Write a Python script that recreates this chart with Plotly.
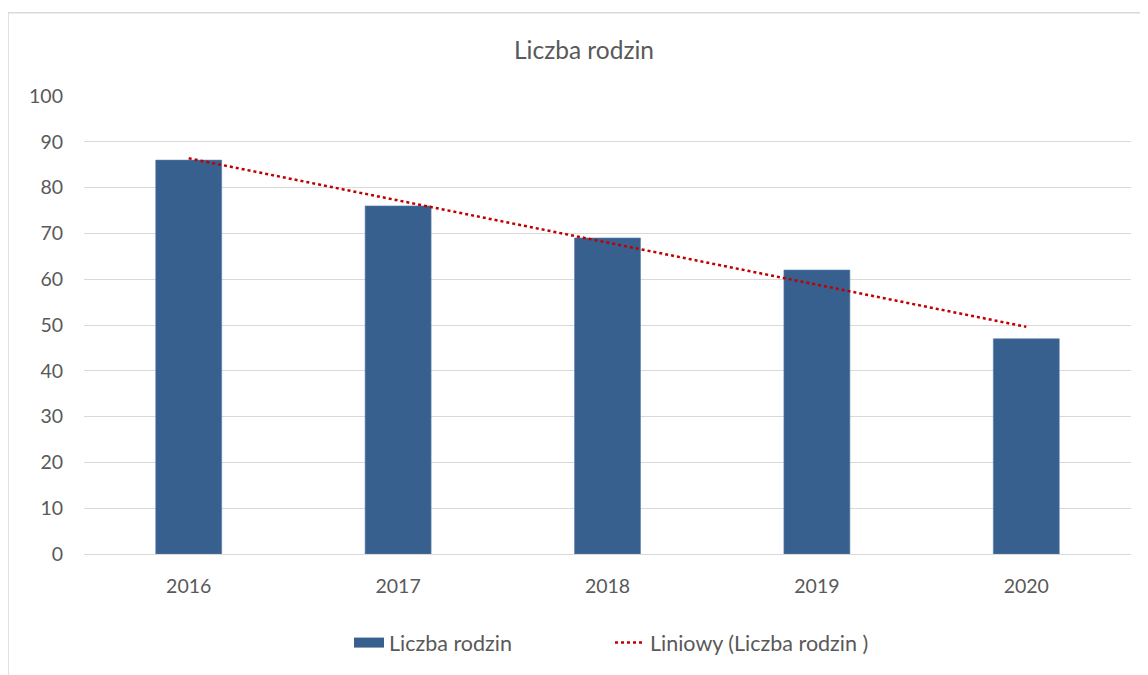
import plotly.graph_objects as go
import numpy as np

years = ["2016", "2017", "2018", "2019", "2020"]
families = [86, 76, 69, 62, 47]
y_ticks = [0, 10, 20, 30, 40, 50, 60, 70, 80, 90, 100]

# linear trendline (least squares) computed from the data
xi = np.arange(1, len(families) + 1)
slope, intercept = np.polyfit(xi, families, 1)
trend = list(slope * xi + intercept)

FONT = "Lato, 'Open Sans', sans-serif"
GREY = "#595959"
BAR = "#37608F"

fig = go.Figure()
fig.add_trace(go.Bar(
    x=years, y=families, name="Liczba rodzin", showlegend=False,
    marker=dict(color=BAR, line=dict(color="#5A7FAA", width=0.6)),
))
# legend proxy for the bar series (wide swatch like the original)
fig.add_trace(go.Scatter(
    x=[None], y=[None], name="Liczba rodzin", mode="lines",
    line=dict(color=BAR, width=16),
))
fig.add_trace(go.Scatter(
    x=years, y=trend, name="Liniowy (Liczba rodzin )", mode="lines",
    line=dict(color="#C00000", width=2.5, dash="dot"),
))

# page has an 8px body margin; work in figure coordinates
W, H = 1140, 667
L, R, T, B = 76, 17, 88, 119
pw, ph = W - L - R, H - T - B
bx0 = (0 - L) / pw
by1 = 1 + (T - 4.5) / ph
by0 = -(B + 5) / ph
bx1 = 1 + (R + 5) / pw

fig.update_layout(
    width=W, height=H,
    margin=dict(l=L, r=R, t=T, b=B),
    paper_bgcolor="white", plot_bgcolor="white",
    font=dict(family=FONT, size=19, color=GREY),
    title=dict(text="Liczba rodzin", x=576 / W, xanchor="center",
               y=1 - 42 / H, yanchor="middle",
               font=dict(family=FONT, size=24.5, color=GREY)),
    bargap=0.685,
    showlegend=True,
    legend=dict(orientation="h", x=(381 - 40 - L) / pw, xanchor="left",
                y=-(637 - (H - B)) / ph, yanchor="middle",
                font=dict(family=FONT, size=21.5, color=GREY),
                entrywidth=216, entrywidthmode="pixels",
                tracegroupgap=0),
    xaxis=dict(type="category", showgrid=False, showline=False,
               ticks="", ticklabelstandoff=18,
               tickfont=dict(family=FONT, size=19.5, color=GREY)),
    yaxis=dict(range=[0, 100], tickvals=y_ticks, showgrid=True,
               gridcolor="#D9D9D9", gridwidth=1, zeroline=True,
               zerolinecolor="#D9D9D9", zerolinewidth=1, showline=False,
               ticks="", ticklabelstandoff=20,
               tickfont=dict(family=FONT, size=19.5, color=GREY)),
    shapes=[
        dict(type="line", xref="paper", yref="paper", x0=bx0, x1=bx0,
             y0=by0, y1=by1, line=dict(color="#D9D9D9", width=1.5)),
        dict(type="line", xref="paper", yref="paper", x0=bx0, x1=bx1,
             y0=by1, y1=by1, line=dict(color="#D9D9D9", width=1.5)),
    ],
)

fig.write_html("out.html")
